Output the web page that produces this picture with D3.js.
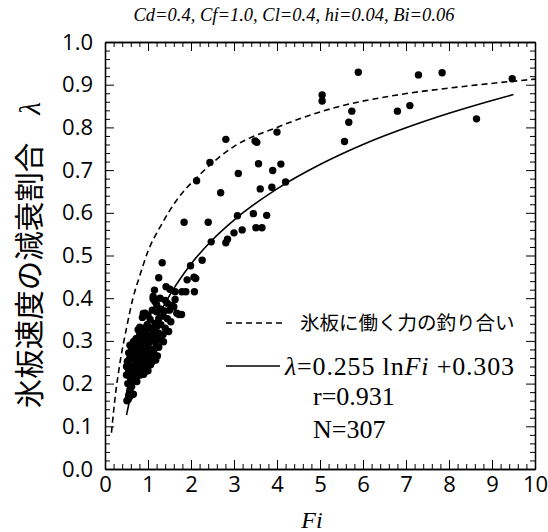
<!DOCTYPE html>
<html>
<head>
<meta charset="utf-8">
<script src="https://cdn.jsdelivr.net/npm/d3@7"></script>
<style>
  body { margin: 0; background: #fff; }
  svg { display: block; }
</style>
</head>
<body>
<div id="chart"></div>
<script>
// tick labels
const xTicks = [0, 1, 2, 3, 4, 5, 6, 7, 8, 9, 10];
const yTicks = [0.0, 0.1, 0.2, 0.3, 0.4, 0.5, 0.6, 0.7, 0.8, 0.9, 1.0];

// measured points [Fi, lambda]
const obsFi = [
  5.89, 5.05, 5.05, 5.74, 5.67, 5.57, 6.80, 7.09, 7.29, 7.84, 8.64, 9.47,
  2.81, 2.44, 3.49, 3.53, 4.00, 3.57, 4.09, 3.90, 3.10, 2.69, 3.61, 3.88, 4.20, 2.13,
  1.84, 2.40, 3.08, 3.45, 3.76, 3.00, 3.19, 3.51, 3.65, 2.85, 2.81, 2.47,
  2.26, 1.33, 1.99, 1.25, 1.91, 2.07, 2.11, 1.42, 1.51, 1.15, 1.12, 1.63, 1.79, 1.88, 2.08, 1.63,
  1.12, 1.16, 1.20, 1.28, 1.40, 1.45, 1.55, 1.60, 1.67, 1.72, 1.78, 1.50, 1.38, 1.28, 1.20, 1.10,
  0.93, 0.89, 0.87, 1.00, 1.05, 1.16, 1.25, 1.35, 1.45, 1.53,
  0.81, 0.77, 0.85, 0.92, 0.98, 1.05, 1.12, 1.20, 1.30, 1.40, 1.48, 1.35, 1.25, 1.15, 1.05, 0.95,
  0.88, 0.80, 0.72, 0.66, 0.70, 0.78, 0.86, 0.95, 1.02, 1.10, 1.18, 1.28, 1.36, 1.25, 1.15, 1.05,
  0.97, 0.90, 0.83, 0.75, 0.66, 0.62, 0.58, 0.55,
  0.60, 0.68, 0.75, 0.82, 0.90, 0.98, 1.06, 1.14, 1.22, 1.18, 1.10, 1.02, 0.95, 0.88, 0.80, 0.72,
  0.64, 0.57, 0.52, 0.54, 0.50, 0.58, 0.66, 0.74, 0.82, 0.90, 0.98, 1.06, 1.00, 0.92, 0.85, 0.78,
  0.70, 0.62, 0.55, 0.50, 0.58, 0.66, 0.74, 0.82, 0.90, 0.68, 0.60, 0.74,
  0.62, 0.58, 0.57, 0.54, 0.58, 0.66, 0.51, 0.55, 0.60, 0.53
];
const obsLambda = [
  0.929, 0.876, 0.862, 0.838, 0.812, 0.767, 0.838, 0.851, 0.923, 0.928, 0.820, 0.914,
  0.772, 0.718, 0.768, 0.765, 0.789, 0.715, 0.714, 0.699, 0.692, 0.647, 0.656, 0.660, 0.672, 0.675,
  0.578, 0.578, 0.593, 0.598, 0.594, 0.553, 0.560, 0.565, 0.565, 0.538, 0.530, 0.532,
  0.489, 0.483, 0.476, 0.448, 0.443, 0.449, 0.446, 0.427, 0.421, 0.419, 0.404, 0.415, 0.415, 0.415, 0.415, 0.397,
  0.398, 0.392, 0.385, 0.400, 0.395, 0.388, 0.383, 0.380, 0.365, 0.362, 0.362, 0.372, 0.370, 0.375, 0.368, 0.372,
  0.365, 0.364, 0.355, 0.360, 0.350, 0.341, 0.352, 0.358, 0.352, 0.345,
  0.332, 0.326, 0.322, 0.330, 0.338, 0.330, 0.325, 0.333, 0.338, 0.330, 0.322, 0.315, 0.318, 0.310, 0.312, 0.318,
  0.310, 0.312, 0.305, 0.298, 0.288, 0.295, 0.298, 0.302, 0.295, 0.300, 0.296, 0.302, 0.298, 0.285, 0.282, 0.280,
  0.285, 0.282, 0.285, 0.280, 0.288, 0.280, 0.290, 0.272,
  0.268, 0.270, 0.265, 0.270, 0.268, 0.272, 0.268, 0.270, 0.265, 0.255, 0.252, 0.255, 0.258, 0.252, 0.255, 0.255,
  0.258, 0.258, 0.252, 0.244, 0.240, 0.240, 0.242, 0.245, 0.240, 0.242, 0.240, 0.244, 0.230, 0.228, 0.230, 0.232,
  0.228, 0.230, 0.230, 0.220, 0.218, 0.215, 0.218, 0.220, 0.222, 0.208, 0.210, 0.205,
  0.193, 0.186, 0.180, 0.163, 0.170, 0.175, 0.160, 0.172, 0.200, 0.200
];

// force-balance curve (dashed)
const balFi = [0.15, 0.25, 0.35, 0.5, 0.65, 0.8, 1.0, 1.3, 1.67, 2.21, 2.98, 4.0, 5.3, 6.8, 8.26, 10.0];
const balLambda = [0.085, 0.18, 0.25, 0.33, 0.40, 0.45, 0.51, 0.57, 0.63, 0.69, 0.754, 0.80, 0.845, 0.876, 0.895, 0.913];

// regression curve (solid)
const fitFi = [0.5, 0.6, 0.7, 0.8, 1.0, 1.25, 1.5, 2.0, 2.5, 3.0, 4.0, 5.0, 6.0, 7.0, 8.0, 9.0, 9.5];
const fitLambda = [0.126, 0.173, 0.212, 0.246, 0.303, 0.360, 0.406, 0.480, 0.537, 0.583, 0.656, 0.713, 0.760, 0.799, 0.833, 0.863, 0.877];

const width = 548, height = 532;
const margin = { top: 42, right: 13, bottom: 63, left: 105 };

const svg = d3.select("#chart")
    .append("svg")
    .attr("width", width)
    .attr("height", height);

const x = d3.scaleLinear().domain([0, 10]).range([margin.left, width - margin.right]);
const y = d3.scaleLinear().domain([0, 1]).range([height - margin.bottom, margin.top]);

const numFont = "'Open Sans', sans-serif";
const serif = "'Liberation Serif', 'Times New Roman', serif";
const jp = "'Noto Sans CJK JP', sans-serif";

const xMinor = d3.range(0, 10.001, 0.2).filter(v => Math.abs(v - Math.round(v)) > 1e-6);
const yMinor = d3.range(0, 1.0001, 0.02).filter(v => Math.abs(v * 10 - Math.round(v * 10)) > 1e-6);

function styleAxis(g) {
    g.select(".domain").attr("stroke", "#000").attr("stroke-width", 1.3);
    g.selectAll(".tick line").attr("stroke", "#000").attr("stroke-width", 1);
    g.selectAll("text").attr("font-family", numFont).attr("font-size", 22).attr("fill", "#000");
}

// bottom
svg.append("g")
    .attr("transform", `translate(0, ${y(0)})`)
    .call(d3.axisBottom(x).tickValues(xTicks).tickFormat(d3.format("d")).tickSize(-9).tickSizeOuter(0).tickPadding(7))
    .call(styleAxis);
svg.append("g")
    .attr("transform", `translate(0, ${y(0)})`)
    .call(d3.axisBottom(x).tickValues(xMinor).tickFormat("").tickSize(-5).tickSizeOuter(0))
    .call(styleAxis);
// top
svg.append("g")
    .attr("transform", `translate(0, ${y(1)})`)
    .call(d3.axisTop(x).tickValues(xTicks).tickFormat("").tickSize(-9).tickSizeOuter(0))
    .call(styleAxis);
svg.append("g")
    .attr("transform", `translate(0, ${y(1)})`)
    .call(d3.axisTop(x).tickValues(xMinor).tickFormat("").tickSize(-5).tickSizeOuter(0))
    .call(styleAxis);
// left
svg.append("g")
    .attr("transform", `translate(${x(0)}, 0)`)
    .call(d3.axisLeft(y).tickValues(yTicks).tickFormat(d3.format(".1f")).tickSize(-9).tickSizeOuter(0).tickPadding(12))
    .call(styleAxis);
svg.append("g")
    .attr("transform", `translate(${x(0)}, 0)`)
    .call(d3.axisLeft(y).tickValues(yMinor).tickFormat("").tickSize(-5).tickSizeOuter(0))
    .call(styleAxis);
// right
svg.append("g")
    .attr("transform", `translate(${x(10)}, 0)`)
    .call(d3.axisRight(y).tickValues(yTicks).tickFormat("").tickSize(-9).tickSizeOuter(0))
    .call(styleAxis);
svg.append("g")
    .attr("transform", `translate(${x(10)}, 0)`)
    .call(d3.axisRight(y).tickValues(yMinor).tickFormat("").tickSize(-5).tickSizeOuter(0))
    .call(styleAxis);

// curves
const line = d3.line()
    .x(d => x(d[0]))
    .y(d => y(d[1]))
    .curve(d3.curveMonotoneX);

svg.append("path")
    .datum(balFi.map((f, i) => [f, balLambda[i]]))
    .attr("d", line)
    .attr("fill", "none")
    .attr("stroke", "#000")
    .attr("stroke-width", 1.6)
    .attr("stroke-dasharray", "6,4");

svg.append("path")
    .datum(fitFi.map((f, i) => [f, fitLambda[i]]))
    .attr("d", line)
    .attr("fill", "none")
    .attr("stroke", "#000")
    .attr("stroke-width", 1.6);

// points
svg.append("g")
    .selectAll("circle")
    .data(obsFi.map((f, i) => [f, obsLambda[i]]))
    .join("circle")
    .attr("cx", d => x(d[0]))
    .attr("cy", d => y(d[1]))
    .attr("r", 3.7)
    .attr("fill", "#000");

// title
svg.append("text")
    .attr("x", 294)
    .attr("y", 21)
    .attr("text-anchor", "middle")
    .attr("font-family", serif)
    .attr("font-style", "italic")
    .attr("font-size", 18.5)
    .text("Cd=0.4, Cf=1.0, Cl=0.4, hi=0.04, Bi=0.06");

// axis titles
svg.append("text")
    .attr("x", 312)
    .attr("y", 528)
    .attr("text-anchor", "middle")
    .attr("font-family", serif)
    .attr("font-style", "italic")
    .attr("font-size", 24)
    .text("Fi");

const yTitle = svg.append("text")
    .attr("transform", "translate(40, 255) rotate(-90)")
    .attr("text-anchor", "middle")
    .attr("font-family", jp)
    .attr("font-size", 29.5)
    .attr("fill", "#000");
yTitle.append("tspan").text("氷板速度の減衰割合");
yTitle.append("tspan")
    .attr("dx", 28)
    .attr("font-family", serif)
    .attr("font-style", "italic")
    .text("λ");

// legend
svg.append("line")
    .attr("x1", 226).attr("x2", 282)
    .attr("y1", 323).attr("y2", 323)
    .attr("stroke", "#000")
    .attr("stroke-width", 1.3)
    .attr("stroke-dasharray", "6,4");
svg.append("text")
    .attr("x", 300)
    .attr("y", 330)
    .attr("font-family", jp)
    .attr("font-size", 19.5)
    .text("氷板に働く力の釣り合い");

svg.append("line")
    .attr("x1", 226).attr("x2", 280)
    .attr("y1", 366).attr("y2", 366)
    .attr("stroke", "#000")
    .attr("stroke-width", 1.3);
const eq = svg.append("text")
    .attr("x", 285)
    .attr("y", 375)
    .attr("font-family", serif)
    .attr("font-size", 26)
    .attr("textLength", 229)
    .attr("lengthAdjust", "spacing");
eq.append("tspan").attr("font-style", "italic").text("λ");
eq.append("tspan").text("=0.255 ln");
eq.append("tspan").attr("font-style", "italic").text("Fi");
eq.append("tspan").text(" +0.303");

svg.append("text")
    .attr("x", 313).attr("y", 405)
    .attr("font-family", serif)
    .attr("font-size", 26)
    .text("r=0.931");
svg.append("text")
    .attr("x", 313).attr("y", 438)
    .attr("font-family", serif)
    .attr("font-size", 26)
    .text("N=307");
</script>
</body>
</html>
